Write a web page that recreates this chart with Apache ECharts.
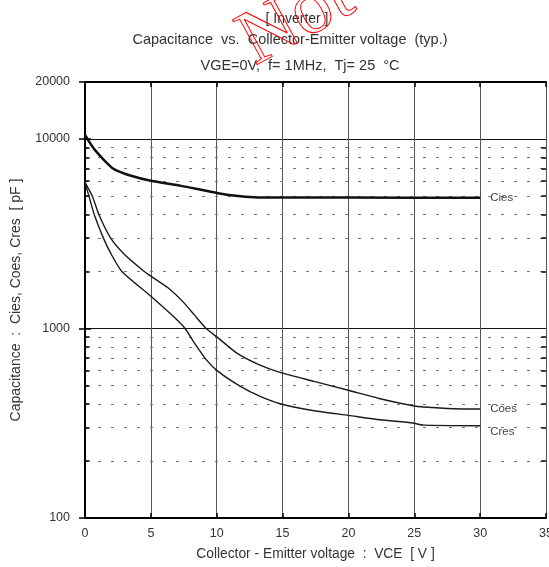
<!DOCTYPE html>
<html>
<head>
<meta charset="utf-8">
<script src="https://cdn.jsdelivr.net/npm/echarts@6/dist/echarts.min.js"></script>
<style>
html,body{margin:0;padding:0;background:#fff;}
#chart{width:549px;height:567px;}
</style>
</head>
<body>
<div id="chart"></div>
<script>
// ---- data ----
const titleLines = ['[ Inverter ]', 'Capacitance  vs.  Collector-Emitter voltage  (typ.)', 'VGE=0V,  f= 1MHz,  Tj= 25  \u00B0C'];
const xAxisName = 'Collector - Emitter voltage  :  VCE  [ V ]';
const yAxisName = 'Capacitance  :  Cies, Coes, Cres  [ pF ]';
const seriesNames = ['Cies', 'Coes', 'Cres'];
const cies = [[0,10500],[0.35,9600],[0.7,8850],[1.5,7680],[2.2,6940],[3.5,6400],[5,6020],[7.3,5660],[10.1,5180],[11.8,4990],[13.1,4920],[20,4910],[30,4900]];
const coes = [[0,5900],[0.55,5000],[1.05,4000],[1.95,3000],[3.0,2460],[4.5,2000],[5,1890],[6.3,1640],[7.5,1370],[8.3,1180],[9.2,1000],[10.1,893],[11.5,744],[13.2,645],[14.8,587],[17.4,526],[20,472],[22.4,426],[24.9,391],[25.7,385],[28,377],[30,376]];
const cres = [[0,5900],[0.3,5000],[0.7,4000],[1.4,3000],[2.0,2460],[2.8,2000],[5,1480],[6.7,1160],[7.6,1000],[8.3,840],[9.2,685],[10.1,594],[11.8,495],[13.3,438],[14.8,401],[17.4,368],[20,348],[22.4,330],[24.9,317],[25.7,309],[30,307]];
const xMin = 0, xMax = 35, xStep = 5;
const yMin = 100, yMax = 20000;
const minorValues = [200,300,400,500,600,700,800,900,2000,3000,4000,5000,6000,7000,8000,9000];
const minorTickLen = 0.35; // in x data units
const watermark = 'Not';

const font = '"Liberation Sans", Arial, sans-serif';
const chart = echarts.init(document.getElementById('chart'));

const gridLines = minorValues.map(v => ({yAxis: v}));
const leftTicks = minorValues.map(v => [{coord:[xMin, v]}, {coord:[xMin + minorTickLen, v]}]);
const rightTicks = minorValues.map(v => [{coord:[xMax - minorTickLen, v]}, {coord:[xMax, v]}]);

const lineColor = '#1a1a1a';
function mkSeries(name, data, width, color, labelOffset) {
  return {
    name: name, type: 'line', data: data, showSymbol: false, symbol: 'none',
    smooth: 0.2, lineStyle: {color: color, width: width}, z: 5, animation: false,
    endLabel: {show: true, formatter: name, color: '#444', fontSize: 11.5, fontFamily: font, distance: 10, offset: labelOffset}
  };
}

chart.setOption({
  animation: false,
  backgroundColor: '#fff',
  grid: {left: 85, right: 3, top: 82, bottom: 49, containLabel: false, outerBoundsMode: 'none'},
  graphic: [
    {type:'text', x: 297, y: 19, style:{text: titleLines[0], font: '14px ' + font, fill:'#333', textAlign:'center', textVerticalAlign:'middle'}},
    {type:'text', x: 290, y: 40, style:{text: titleLines[1], font: '14.5px ' + font, fill:'#333', textAlign:'center', textVerticalAlign:'middle'}},
    {type:'text', x: 300, y: 66, style:{text: titleLines[2], font: '14.5px ' + font, fill:'#333', textAlign:'center', textVerticalAlign:'middle'}},
    {type:'text', x: 264, y: 82, rotation: 0.5, z: 100, style:{text: watermark, font: '78px "Liberation Serif", serif', fill: 'none', stroke: '#ff0000', lineWidth: 1, textAlign:'left', textVerticalAlign:'bottom'}}
  ],
  xAxis: [
    {type:'value', position:'bottom', min: xMin, max: xMax, interval: xStep,
     name: xAxisName, nameLocation:'middle', nameGap: 29,
     nameTextStyle:{fontSize: 13.8, fontFamily: font, color:'#333'},
     axisLine:{show:true, lineStyle:{color:'#000', width:2}},
     axisTick:{show:true, inside:true, length:5, lineStyle:{color:'#000', width:1.5}},
     axisLabel:{fontSize:12.5, fontFamily: font, color:'#333', margin:9},
     splitLine:{show:true, lineStyle:{color:'#555', width:1}}},
    {type:'value', position:'top', min: xMin, max: xMax, interval: xStep,
     axisLine:{show:true, lineStyle:{color:'#000', width:2}},
     axisTick:{show:true, inside:true, length:5, lineStyle:{color:'#000', width:1.5}},
     axisLabel:{show:false}, splitLine:{show:false}}
  ],
  yAxis: [
    {type:'log', logBase:10, position:'left', min: yMin, max: yMax,
     name: yAxisName, nameLocation:'middle', nameGap: 62,
     nameTextStyle:{fontSize: 14, fontFamily: font, color:'#333'},
     axisLine:{show:true, lineStyle:{color:'#000', width:2}},
     axisTick:{show:true, inside:true, length:6, lineStyle:{color:'#000', width:1.5}},
     axisLabel:{fontSize:12.5, fontFamily: font, color:'#333', margin:15, showMaxLabel:true, formatter: v => String(Math.round(v))},
     splitLine:{show:true, lineStyle:{color:'#111', width:1}}},
    {type:'log', logBase:10, position:'right', min: yMin, max: yMax,
     axisLine:{show:true, lineStyle:{color:'#000', width:1.5}},
     axisTick:{show:true, inside:true, length:6, lineStyle:{color:'#000', width:1.5}},
     axisLabel:{show:false}, splitLine:{show:false}}
  ],
  series: [
    {type:'line', data: [], silent: true, z: 1,
     markLine:{silent:true, symbol:['none','none'], label:{show:false}, animation:false,
       lineStyle:{color:'#777', width:1, type:[3,10]}, data: gridLines}},
    {type:'line', data: [], silent: true, z: 3,
     markLine:{silent:true, symbol:['none','none'], label:{show:false}, animation:false,
       lineStyle:{color:'#000', width:1.5, type:'solid'}, data: leftTicks.concat(rightTicks)}},
    mkSeries(seriesNames[0], cies, 2.5, '#111', [0, 0]),
    mkSeries(seriesNames[1], coes, 1.4, lineColor, [0, 0]),
    mkSeries(seriesNames[2], cres, 1.4, lineColor, [0, 6])
  ]
});
</script>
</body>
</html>
